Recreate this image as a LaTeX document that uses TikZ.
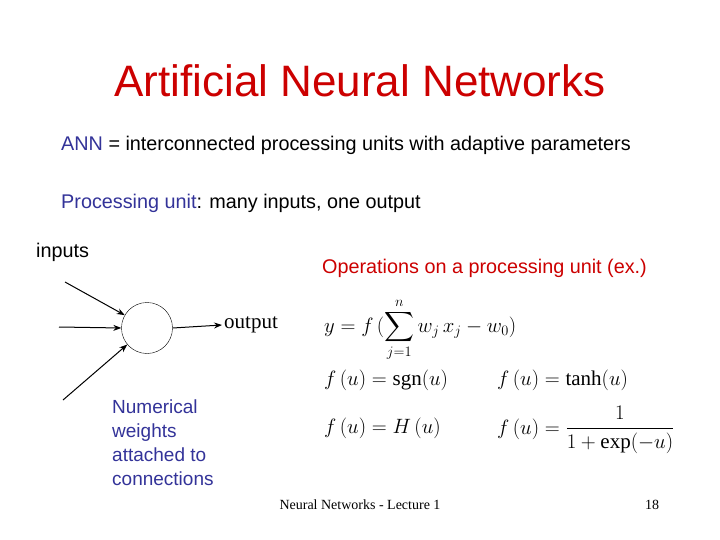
\documentclass[tikz,border=0pt]{standalone}
\usepackage{amsmath}
\usepackage{fontspec}
\setmainfont{Liberation Sans}
\newfontfamily\tms{Liberation Serif}
\usetikzlibrary{arrows.meta}
\definecolor{tred}{RGB}{204,0,0}
\definecolor{tblue}{RGB}{51,51,153}
\newcommand{\rmop}[1]{\text{\tms #1}}
\begin{document}
\begin{tikzpicture}[x=1pt,y=-1pt,
  txt/.style={inner sep=0pt,anchor=west},
  arr/.style={-{Stealth[length=8pt,width=6pt]},line width=1pt},
  fm/.style={inner sep=0pt,anchor=west,font=\fontsize{21}{24}\selectfont}]
\useasboundingbox[fill=white] (0,0) rectangle (720,540);
\node[txt,anchor=center,text=tred,font=\fontsize{44}{50}\selectfont] (title) at (360,81) {Artificial Neural Networks};
\node[txt,font=\fontsize{19.8}{22}\selectfont] (l1) at (61,145) {\textcolor{tblue}{ANN} = interconnected processing units with adaptive parameters};
\node[txt,font=\fontsize{19.8}{22}\selectfont] (l2) at (61,203) {\textcolor{tblue}{Processing unit}: many inputs, one output};
\node[txt,font=\fontsize{19.8}{22}\selectfont] (inp) at (36,252) {inputs};
\node[txt,text=tred,font=\fontsize{19.8}{22}\selectfont] (ops) at (322,268) {Operations on a processing unit (ex.)};
\node[circle,draw,minimum size=51pt,inner sep=0pt] (n) at (147,328) {};
\coordinate (i1) at (65,282);
\coordinate (i2) at (59,327);
\coordinate (i3) at (63,400);
\draw[arr] (i1) -- (n.150);
\draw[arr] (i2) -- (n.west);
\draw[arr] (i3) -- (n.220);
\node[txt,font=\tms\fontsize{21}{24}\selectfont] (out) at (224,325) {output};
\draw[arr] (n.east) -- ([xshift=-2pt]out.west);
\node[txt,text=tblue,align=left,font=\fontsize{19}{24}\selectfont,anchor=north west] (num) at (112,400) {Numerical\\weights\\attached to\\connections};
\node[fm] (f1) at (324,330) {$y = f\,(\displaystyle\sum_{j=1}^{n} w_j\, x_j - w_0)$};
\node[fm] (f2) at (324,380) {$f\,(u) = \rmop{sgn}(u)$};
\node[fm] (f3) at (497,380) {$f\,(u) = \rmop{tanh}(u)$};
\node[fm] (f4) at (324,428) {$f\,(u) = H\,(u)$};
\node[fm] (f5) at (497,430) {$f\,(u) = \dfrac{1}{1+\rmop{exp}(-u)}$};
\node[txt,anchor=center,font=\tms\fontsize{14}{16}\selectfont] (foot) at (360,505) {Neural Networks - Lecture 1};
\node[txt,anchor=center,font=\tms\fontsize{14}{16}\selectfont] (pg) at (652,505) {18};
\end{tikzpicture}
\end{document}
